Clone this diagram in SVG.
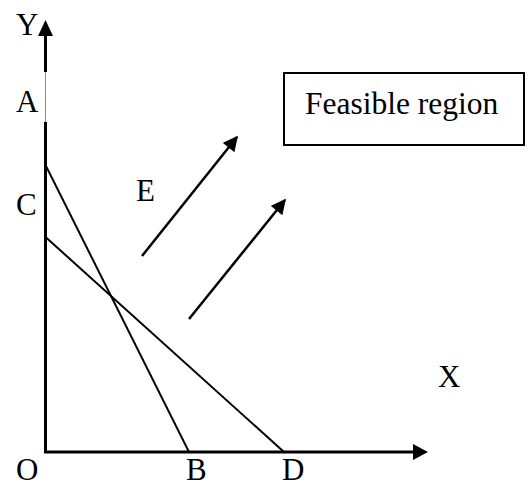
<svg xmlns="http://www.w3.org/2000/svg" width="528" height="486" viewBox="0 0 528 486">
<style>
.axis{stroke:#000;stroke-width:3;fill:none}
.ln{stroke:#000;stroke-width:2;fill:none}
.arr{stroke:#000;stroke-width:2.5;fill:none}
.t{font-family:'Liberation Serif','Times New Roman',serif;fill:#000}
</style>
<defs>
<marker id="ah" viewBox="0 0 10 10" refX="9" refY="5" markerWidth="6.4" markerHeight="6" markerUnits="strokeWidth" orient="auto">
<path d="M0,0 L10,5 L0,10 z" fill="#000"/>
</marker>
</defs>
<rect width="528" height="486" fill="#fff"/>
<g id="axes">
<polygon points="45.5,20 38,36 53,36" fill="#000"/>
<line class="axis" x1="45.5" y1="35" x2="45.5" y2="72"/>
<line x1="45.5" y1="72" x2="45.5" y2="122" stroke="#888" stroke-width="1"/>
<line class="axis" x1="45.5" y1="122" x2="45.5" y2="452"/>
<line class="axis" x1="44" y1="452" x2="414" y2="452"/>
<polygon points="428,452 413,444 413,460" fill="#000"/>
</g>
<g id="constraints">
<line class="ln" x1="45.5" y1="165" x2="189" y2="452"/>
<line class="ln" x1="45.5" y1="237" x2="284" y2="452"/>
</g>
<g id="connectors">
<line class="arr" x1="142" y1="256" x2="237" y2="137" marker-end="url(#ah)"/>
<line class="arr" x1="189" y1="319" x2="285" y2="200" marker-end="url(#ah)"/>
</g>
<g id="feasible-region">
<rect x="284" y="73" width="240" height="72" fill="#fff" stroke="#000" stroke-width="2"/>
<text class="t" x="305" y="114" font-size="31.5">Feasible region</text>
</g>
<g id="labels" class="t" font-size="31">
<text class="t" x="16" y="35">Y</text>
<text class="t" x="16" y="112">A</text>
<text class="t" x="16" y="215">C</text>
<text class="t" x="136" y="201">E</text>
<text class="t" x="16" y="480">O</text>
<text class="t" x="186" y="480">B</text>
<text class="t" x="282" y="480">D</text>
<text class="t" x="438" y="387">X</text>
</g>
</svg>
